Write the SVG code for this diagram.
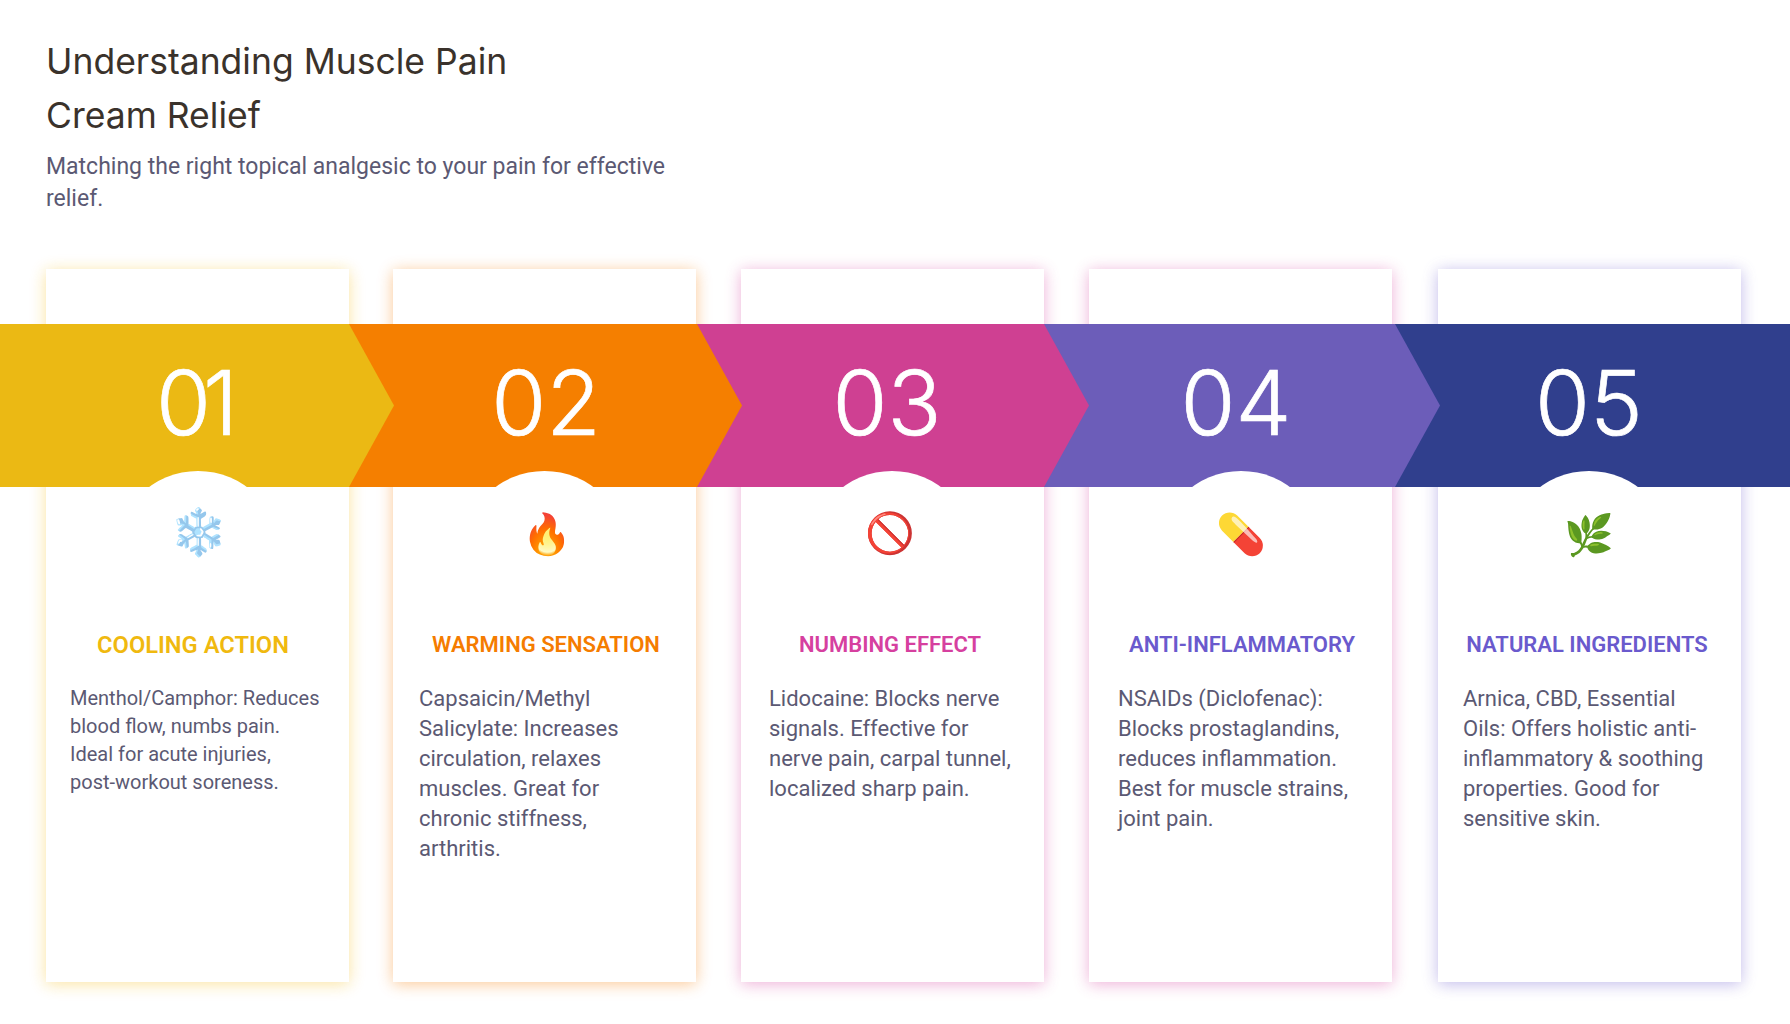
<svg xmlns="http://www.w3.org/2000/svg" width="1790" height="1024" viewBox="0 0 1790 1024">
<defs>
<filter id="glow" x="-20%" y="-10%" width="140%" height="120%"><feGaussianBlur stdDeviation="8"/></filter>
</defs>
<style>
text{font-family:"Roboto","Liberation Sans",sans-serif}
.title{font-family:"Inter","Liberation Sans",sans-serif;font-size:35.5px;fill:#3a322b}
.sub{font-size:23px;fill:#5b5973}
.num{font-family:"Inter","Liberation Sans",sans-serif;font-weight:300;font-size:89px;fill:#fff;stroke:#fff;stroke-width:.7px;text-anchor:middle}
.emo{font-family:"Noto Sans","DejaVu Sans",sans-serif;font-size:40px;text-anchor:middle}
.card{fill:#fff}
.glow{filter:url(#glow);opacity:.42}
.disc{fill:#fff}
.h{font-weight:600;font-size:22px;text-anchor:middle}
.b1{font-size:20px;fill:#5b5973}
.b{font-size:22px;fill:#5b5973}
</style>
<rect width="1790" height="1024" fill="#fff"/>
<g id="header">
<text class="title" x="46" y="74">Understanding Muscle Pain</text>
<text class="title" x="46" y="128">Cream Relief</text>
<text class="sub" x="46" y="174">Matching the right topical analgesic to your pain for effective</text>
<text class="sub" x="46" y="206">relief.</text>
</g>
<g id="card-shadows">
<rect class="glow" x="46" y="271" width="303" height="713" fill="#f5bd1f"/>
<rect class="glow" x="393" y="271" width="303" height="713" fill="#f57c00"/>
<rect class="glow" x="741" y="271" width="303" height="713" fill="#d6409f"/>
<rect class="glow" x="1089" y="271" width="303" height="713" fill="#d6409f"/>
<rect class="glow" x="1438" y="271" width="303" height="713" fill="#6a5acd"/>
</g>
<g id="step-5">
<rect class="card" x="1438" y="269" width="303" height="713"/>
<rect x="1390" y="324" width="400" height="163" fill="#303f8d"/>
<circle class="disc" cx="1589" cy="554" r="83"/>
<rect class="card" x="1438" y="487" width="303" height="200"/>
<text class="num" x="1589" y="435">05</text>
<text class="emo" x="1589" y="549">🌿</text>
<text class="h" x="1587" y="652" fill="#6a5acd">NATURAL INGREDIENTS</text>
<text class="b" x="1463" y="706">Arnica, CBD, Essential</text>
<text class="b" x="1463" y="736">Oils: Offers holistic anti-</text>
<text class="b" x="1463" y="766">inflammatory &amp; soothing</text>
<text class="b" x="1463" y="796">properties. Good for</text>
<text class="b" x="1463" y="826">sensitive skin.</text>
</g>
<g id="step-4">
<rect class="card" x="1089" y="269" width="303" height="713"/>
<polygon points="1040,324 1395,324 1440,405.5 1395,487 1040,487" fill="#6c5db9"/>
<circle class="disc" cx="1241" cy="554" r="83"/>
<rect class="card" x="1089" y="487" width="303" height="200"/>
<text class="num" x="1236" y="435">04</text>
<text class="emo" x="1241" y="548">💊</text>
<text class="h" x="1242" y="652" fill="#6a5acd">ANTI-INFLAMMATORY</text>
<text class="b" x="1118" y="706">NSAIDs (Diclofenac):</text>
<text class="b" x="1118" y="736">Blocks prostaglandins,</text>
<text class="b" x="1118" y="766">reduces inflammation.</text>
<text class="b" x="1118" y="796">Best for muscle strains,</text>
<text class="b" x="1118" y="826">joint pain.</text>
</g>
<g id="step-3">
<rect class="card" x="741" y="269" width="303" height="713"/>
<polygon points="690,324 1044,324 1089,405.5 1044,487 690,487" fill="#cf4092"/>
<circle class="disc" cx="892" cy="554" r="83"/>
<rect class="card" x="741" y="487" width="303" height="200"/>
<text class="num" x="887" y="435">03</text>
<text class="emo" x="890" y="547">🚫</text>
<text class="h" x="890" y="652" fill="#d6409f">NUMBING EFFECT</text>
<text class="b" x="769" y="706">Lidocaine: Blocks nerve</text>
<text class="b" x="769" y="736">signals. Effective for</text>
<text class="b" x="769" y="766">nerve pain, carpal tunnel,</text>
<text class="b" x="769" y="796">localized sharp pain.</text>
</g>
<g id="step-2">
<rect class="card" x="393" y="269" width="303" height="713"/>
<polygon points="340,324 697,324 742,405.5 697,487 340,487" fill="#f57f00"/>
<circle class="disc" cx="544.5" cy="554" r="83"/>
<rect class="card" x="393" y="487" width="303" height="200"/>
<text class="num" x="546" y="435">02</text>
<text class="emo" x="547" y="548">🔥</text>
<text class="h" x="546" y="652" fill="#f57c00">WARMING SENSATION</text>
<text class="b" x="419" y="706">Capsaicin/Methyl</text>
<text class="b" x="419" y="736">Salicylate: Increases</text>
<text class="b" x="419" y="766">circulation, relaxes</text>
<text class="b" x="419" y="796">muscles. Great for</text>
<text class="b" x="419" y="826">chronic stiffness,</text>
<text class="b" x="419" y="856">arthritis.</text>
</g>
<g id="step-1">
<rect class="card" x="46" y="269" width="303" height="713"/>
<polygon points="0,324 349,324 394,405.5 349,487 0,487" fill="#ebb914"/>
<circle class="disc" cx="198" cy="554" r="83"/>
<rect class="card" x="46" y="487" width="303" height="200"/>
<text class="num" x="193" y="435" style="letter-spacing:-8px">01</text>
<text class="emo" x="198" y="547.500" style="font-size:46px">❄️</text>
<text class="h" x="193" y="653" style="font-size:23.700px" fill="#f0b90f">COOLING ACTION</text>
<text class="b1" x="70" y="705">Menthol/Camphor: Reduces</text>
<text class="b1" x="70" y="733">blood flow, numbs pain.</text>
<text class="b1" x="70" y="761">Ideal for acute injuries,</text>
<text class="b1" x="70" y="789">post-workout soreness.</text>
</g>
</svg>
